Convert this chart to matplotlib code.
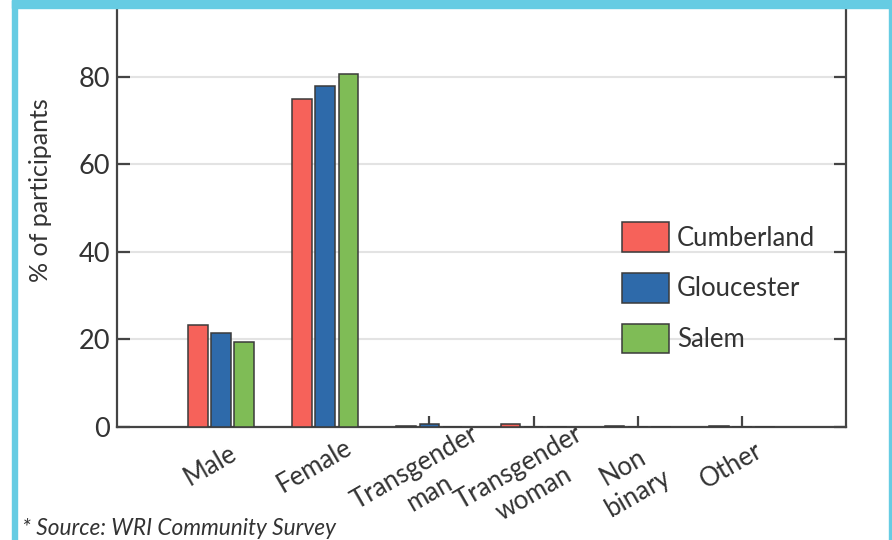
import matplotlib
matplotlib.use("Agg")
import matplotlib.pyplot as plt
import matplotlib.patches as mpatches
from matplotlib.transforms import ScaledTranslation
import numpy as np

plt.rcParams['font.family'] = ['Lato', 'DejaVu Sans']

categories = ["Male", "Female", "Transgender\nman", "Transgender\nwoman", "Non\nbinary", "Other"]
series_names = ["Cumberland", "Gloucester", "Salem"]
cumberland = [23.4, 74.9, 0.2, 0.7, 0.2, 0.2]
gloucester = [21.5, 77.8, 0.6, 0.0, 0.0, 0.0]
salem = [19.3, 80.5, 0.0, 0.0, 0.0, 0.0]
yticks = [0, 20, 40, 60, 80]
source_text = "* Source: WRI Community Survey"

colors = ["#F6625A", "#2E6AAA", "#7FBC56"]
W, H = 892, 540
fig = plt.figure(figsize=(W / 100, H / 100), dpi=100)

# border
border = "#66CCE3"
fig.patches.append(mpatches.Rectangle((12 / W, 0), 5 / W, 1, transform=fig.transFigure, color=border, zorder=0))
fig.patches.append(mpatches.Rectangle((12 / W, 1 - 8 / H), 1, 8 / H, transform=fig.transFigure, color=border, zorder=0))
fig.patches.append(mpatches.Rectangle((889 / W, 0), 3 / W, 1, transform=fig.transFigure, color=border, zorder=0))

x0, x1 = 117, 846
y0 = 427
ymax = 100
px_per_unit = 4.38
ytop = y0 - ymax * px_per_unit
ax = fig.add_axes([x0 / W, (H - y0) / H, (x1 - x0) / W, (y0 - ytop) / H])

x = np.arange(len(categories))
off = 0.222
bw = 0.19
for i, (vals, c, name) in enumerate(zip([cumberland, gloucester, salem], colors, series_names)):
    ax.bar(x + (i - 1) * off, vals, width=bw, color=c, edgecolor="#3a3a3a", linewidth=1.1, label=name, zorder=3)

ax.set_xlim(-1, 6)
ax.set_ylim(0, ymax)
ax.set_yticks(yticks)
ax.set_yticklabels([str(t) for t in yticks], fontsize=19.5, color="#333333")
ax.yaxis.grid(True, color="#e3e3e3", linewidth=1.5, zorder=0)
ax.set_axisbelow(True)

spine_c = "#444444"
for s in ["left", "right", "bottom"]:
    ax.spines[s].set_color(spine_c)
    ax.spines[s].set_linewidth(1.6)
ax.spines["top"].set_visible(False)
ax.tick_params(axis="y", direction="in", length=9, width=1.6, color=spine_c, right=True, pad=5)
ax.tick_params(axis="x", direction="in", length=8, width=1.6, color=spine_c, pad=20)

ax.set_xticks(x)
ax.set_xticklabels(categories, fontsize=18.5, color="#333333", rotation=30,
                   rotation_mode="anchor", ha="center", va="top", linespacing=1.25)
for lbl in ax.get_xticklabels():
    n_lines = lbl.get_text().count("\n") + 1
    dx = -17 if n_lines == 1 else -21
    dy = 0 if n_lines == 1 else -2
    lbl.set_transform(lbl.get_transform() + ScaledTranslation(dx / 100, dy / 100, fig.dpi_scale_trans))

ax.set_ylabel("% of participants", fontsize=18, color="#333333")
ax.yaxis.set_label_coords((52 - x0) / (x1 - x0), (y0 - 190) / (y0 - ytop))

leg = ax.legend(loc="upper left", bbox_to_anchor=((620 - x0) / (x1 - x0) - 0.012, 1 - (212 - ytop) / (y0 - ytop)),
                frameon=False, fontsize=18.5, handlelength=1.85, handleheight=1.4,
                handletextpad=0.3, labelspacing=0.82, borderaxespad=0)
for t in leg.get_texts():
    t.set_color("#333333")

fig.text(22 / W, 1 - 535 / H, source_text, fontsize=16.3, style="italic", color="#333333", ha="left", va="baseline")

fig.savefig("out.png", dpi=100)
